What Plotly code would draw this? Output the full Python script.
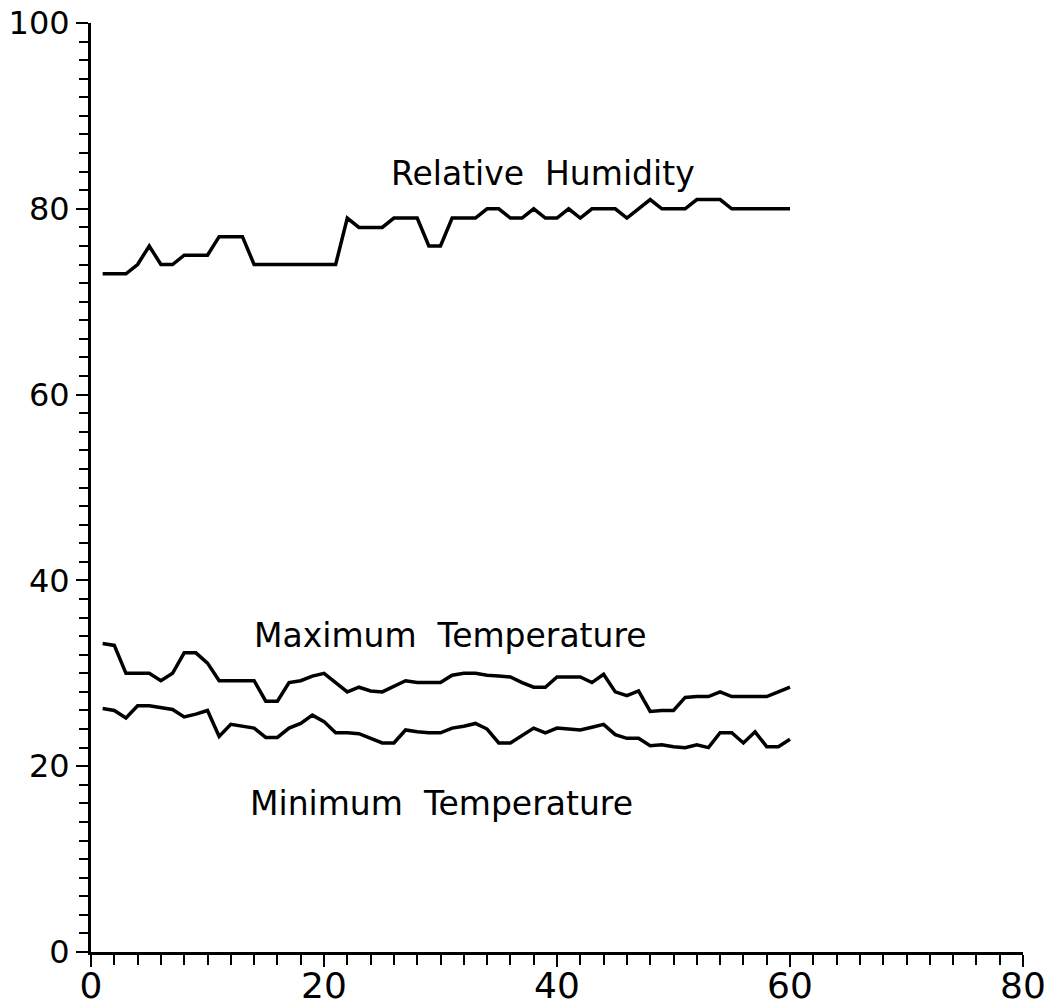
import plotly.graph_objects as go

days = list(range(1, 61))

rel_humidity = [73, 73, 73, 74, 76, 74, 74, 75, 75, 75,
                77, 77, 77, 74, 74, 74, 74, 74, 74, 74,
                74, 79, 78, 78, 78, 79, 79, 79, 76, 76,
                79, 79, 79, 80, 80, 79, 79, 80, 79, 79,
                80, 79, 80, 80, 80, 79, 80, 81, 80, 80,
                80, 81, 81, 81, 80, 80, 80, 80, 80, 80]

max_temp = [33.2, 33, 30, 30, 30, 29.2, 30, 32.2, 32.2, 31.1,
            29.2, 29.2, 29.2, 29.2, 27, 27, 29, 29.2, 29.7, 30,
            29, 28, 28.5, 28.1, 28, 28.6, 29.2, 29, 29, 29,
            29.8, 30, 30, 29.8, 29.7, 29.6, 29, 28.5, 28.5, 29.6,
            29.6, 29.6, 29, 29.9, 28, 27.6, 28.1, 25.9, 26, 26,
            27.4, 27.5, 27.5, 28, 27.5, 27.5, 27.5, 27.5, 28, 28.5]

min_temp = [26.2, 26, 25.2, 26.5, 26.5, 26.3, 26.1, 25.3, 25.6, 26,
            23.2, 24.5, 24.3, 24.1, 23.1, 23.1, 24.1, 24.6, 25.5, 24.8,
            23.6, 23.6, 23.5, 23, 22.5, 22.5, 23.9, 23.7, 23.6, 23.6,
            24.1, 24.3, 24.6, 24, 22.5, 22.5, 23.3, 24.1, 23.6, 24.1,
            24, 23.9, 24.2, 24.5, 23.4, 23, 23, 22.2, 22.3, 22.1,
            22, 22.3, 22, 23.6, 23.6, 22.5, 23.7, 22.1, 22.1, 22.9]

labels = ["Relative  Humidity", "Maximum  Temperature", "Minimum  Temperature"]
label_x = [38.8, 30.9, 30.1]
label_y = [83.8, 34.1, 16.0]

x_ticks = [0, 20, 40, 60, 80]
y_ticks = [0, 20, 40, 60, 80, 100]

fig = go.Figure()
for series in (rel_humidity, max_temp, min_temp):
    fig.add_trace(go.Scatter(x=days, y=series, mode="lines",
                             line=dict(color="black", width=3.5),
                             showlegend=False, hoverinfo="skip"))

for t, lx, ly in zip(labels, label_x, label_y):
    fig.add_annotation(x=lx, y=ly, text=t, showarrow=False,
                       font=dict(family="DejaVu Sans", size=33, color="black"))

fig.update_layout(
    width=1054, height=1007, autosize=False,
    margin=dict(l=91, r=31, t=23, b=55, autoexpand=False),
    paper_bgcolor="white", plot_bgcolor="white",
    font=dict(family="DejaVu Sans", color="black"),
)
fig.update_xaxes(range=[0, 80], tickvals=x_ticks, ticktext=[str(v) for v in x_ticks],
                 automargin=False, ticklabelstandoff=-12,
                 showgrid=False, zeroline=False, showline=True, linecolor="black",
                 linewidth=3, ticks="outside", ticklen=12, tickwidth=2, tickcolor="black",
                 tickfont=dict(size=36, family="DejaVu Sans", color="black"),
                 minor=dict(dtick=2, ticks="outside", ticklen=10, tickwidth=2,
                            tickcolor="black", showgrid=False))
fig.update_yaxes(range=[0, 100], tickvals=y_ticks, ticktext=[str(v) for v in y_ticks],
                 automargin=False,
                 showgrid=False, zeroline=False, showline=True, linecolor="black",
                 linewidth=3, ticks="outside", ticklen=12, tickwidth=2, tickcolor="black",
                 tickfont=dict(size=32, family="DejaVu Sans", color="black"),
                 minor=dict(dtick=2, ticks="outside", ticklen=9, tickwidth=2,
                            tickcolor="black", showgrid=False))

fig.write_html("out.html", config={"displayModeBar": False},
               post_script="document.body.style.margin='0';document.body.style.overflow='hidden';")
